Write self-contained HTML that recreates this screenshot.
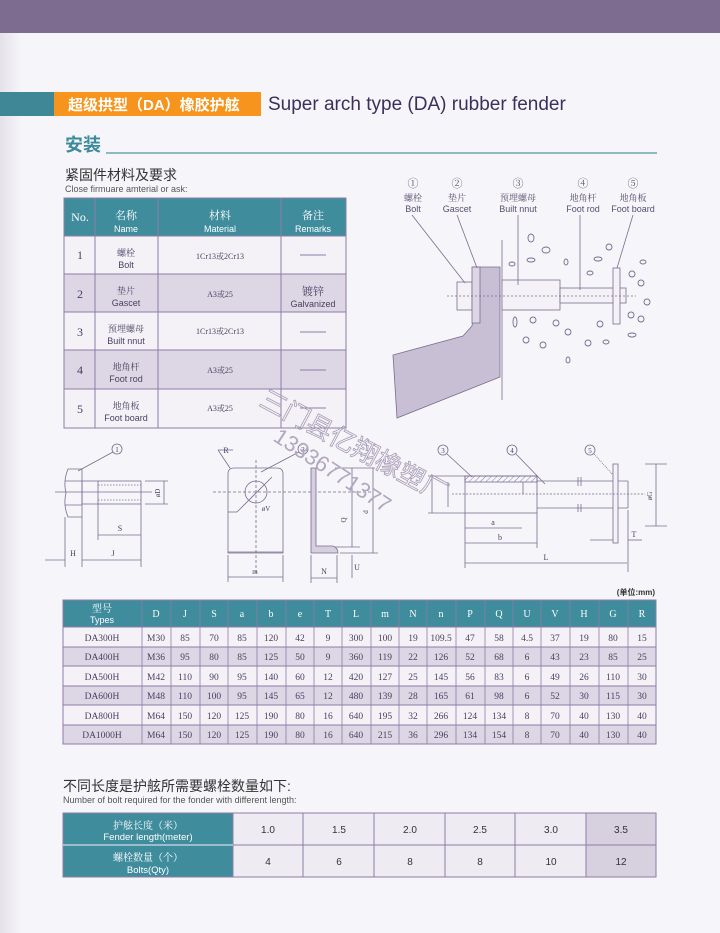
<!DOCTYPE html>
<html><head><meta charset="utf-8">
<style>
html,body{margin:0;padding:0;background:#f6f5f9;}
svg{display:block;}
.cn{font-family:"Liberation Sans","Noto Sans CJK SC",sans-serif;}
.sf{font-family:"Liberation Serif","Noto Serif CJK SC",serif;}
</style></head><body>
<svg width="720" height="933" viewBox="0 0 720 933" xmlns="http://www.w3.org/2000/svg">
<defs>
<linearGradient id="lg" x1="0" x2="1"><stop offset="0" stop-color="#e4e2e8"/><stop offset="0.03" stop-color="#f6f5f9"/></linearGradient>
<pattern id="hatch" width="4" height="4" patternUnits="userSpaceOnUse" patternTransform="rotate(45)"><line x1="0" y1="0" x2="0" y2="4" stroke="#8a7aa0" stroke-width="1"/></pattern>
</defs>
<rect width="720" height="933" fill="url(#lg)"/>
<rect width="720" height="33" fill="#7d6c8f"/>
<!-- title bar -->
<rect x="0" y="92" width="54" height="24" fill="#3f8696"/>
<rect x="54" y="92" width="207" height="24" fill="#f7941d"/>
<text x="68" y="110" class="cn" font-size="15" font-weight="bold" fill="#fff">超级拱型（DA）橡胶护舷</text>
<text x="268" y="110" class="cn" font-size="19" fill="#3d2f5a">Super arch type (DA) rubber fender</text>
<text x="65" y="151" class="cn" font-size="18" font-weight="bold" fill="#3d8a9a">安装</text>
<line x1="106" y1="153" x2="657" y2="153" stroke="#4f95a3" stroke-width="1.2"/>
<text x="65" y="180" class="cn" font-size="14" fill="#333">紧固件材料及要求</text>
<text x="65" y="192" class="cn" font-size="9" fill="#555">Close firmuare amterial or ask:</text>

<!-- table 1 -->
<g stroke="#8f7ca8" stroke-width="1">
<rect x="64" y="198" width="282" height="38" fill="#3f8c9c"/>
<rect x="64" y="236" width="282" height="38" fill="#f4f2f7"/>
<rect x="64" y="274" width="282" height="38" fill="#dcd6e5"/>
<rect x="64" y="312" width="282" height="38" fill="#f4f2f7"/>
<rect x="64" y="350" width="282" height="39" fill="#dcd6e5"/>
<rect x="64" y="389" width="282" height="39" fill="#f4f2f7"/>
<line x1="95" y1="198" x2="95" y2="428"/><line x1="158" y1="198" x2="158" y2="428"/><line x1="281" y1="198" x2="281" y2="428"/>
</g>
<g text-anchor="middle" fill="#fff">
<text x="80" y="221" class="sf" font-size="12">No.</text>
<text x="126" y="219" class="sf" font-size="11">名称</text><text x="126" y="232" class="cn" font-size="9">Name</text>
<text x="220" y="219" class="sf" font-size="11">材料</text><text x="220" y="232" class="cn" font-size="9">Material</text>
<text x="313" y="219" class="sf" font-size="11">备注</text><text x="313" y="232" class="cn" font-size="9">Remarks</text>
</g>
<g text-anchor="middle" fill="#4a3f60">
<text x="80" y="259" class="sf" font-size="12">1</text><text x="126" y="256" class="sf" font-size="9">螺栓</text><text x="126" y="268" class="cn" font-size="9">Bolt</text><text x="220" y="259" class="sf" font-size="8">1Cr13或2Cr13</text><line x1="300" y1="255" x2="326" y2="255" stroke="#8f7ca8"/>
<text x="80" y="298" class="sf" font-size="12">2</text><text x="126" y="294" class="sf" font-size="9">垫片</text><text x="126" y="306" class="cn" font-size="9">Gascet</text><text x="220" y="297" class="sf" font-size="8">A3或25</text><text x="313" y="295" class="sf" font-size="11">镀锌</text><text x="313" y="307" class="cn" font-size="9">Galvanized</text>
<text x="80" y="336" class="sf" font-size="12">3</text><text x="126" y="332" class="sf" font-size="9">预埋螺母</text><text x="126" y="344" class="cn" font-size="9">Built nnut</text><text x="220" y="334" class="sf" font-size="8">1Cr13或2Cr13</text><line x1="300" y1="332" x2="326" y2="332" stroke="#8f7ca8"/>
<text x="80" y="374" class="sf" font-size="12">4</text><text x="126" y="370" class="sf" font-size="9">地角杆</text><text x="126" y="382" class="cn" font-size="9">Foot rod</text><text x="220" y="373" class="sf" font-size="8">A3或25</text><line x1="300" y1="370" x2="326" y2="370" stroke="#8f7ca8"/>
<text x="80" y="413" class="sf" font-size="12">5</text><text x="126" y="409" class="sf" font-size="9">地角板</text><text x="126" y="421" class="cn" font-size="9">Foot board</text><text x="220" y="411" class="sf" font-size="8">A3或25</text><line x1="300" y1="408" x2="326" y2="408" stroke="#8f7ca8"/>
</g>

<!-- install diagram -->
<g text-anchor="middle" fill="#5a4e70" font-size="9">
<text x="413" y="187" class="sf" font-size="11">①</text><text x="457" y="187" class="sf" font-size="11">②</text><text x="518" y="187" class="sf" font-size="11">③</text><text x="583" y="187" class="sf" font-size="11">④</text><text x="633" y="187" class="sf" font-size="11">⑤</text>
<text x="413" y="201" class="sf">螺栓</text><text x="457" y="201" class="sf">垫片</text><text x="518" y="201" class="sf">预埋螺母</text><text x="583" y="201" class="sf">地角杆</text><text x="633" y="201" class="sf">地角板</text>
<text x="413" y="212" class="cn">Bolt</text><text x="457" y="212" class="cn">Gascet</text><text x="518" y="212" class="cn">Built nnut</text><text x="583" y="212" class="cn">Foot rod</text><text x="633" y="212" class="cn">Foot board</text>
</g>
<g stroke="#7a6c90" stroke-width="0.8" fill="none">
<polygon points="393,355 463,336 472,326 473,317 473,267 500,267 500,377 397,418" fill="#c8bfd5"/>
<line x1="502" y1="240" x2="502" y2="400"/>
<rect x="457" y="282" width="15" height="28" fill="#f4f2f7"/>
<rect x="472" y="267" width="8" height="56" fill="#ddd6e6"/>
<rect x="502" y="280" width="58" height="30" fill="#f4f2f7"/>
<rect x="560" y="288" width="66" height="15" fill="#f4f2f7"/>
<rect x="613" y="268" width="7" height="56" fill="#f4f2f7"/>
<line x1="447" y1="296" x2="636" y2="296" stroke-dasharray="2,2"/>
<line x1="412" y1="215" x2="465" y2="283"/><line x1="457" y1="215" x2="477" y2="268"/><line x1="518" y1="215" x2="518" y2="285"/><line x1="580" y1="215" x2="580" y2="290"/><line x1="633" y1="215" x2="617" y2="268"/>
<g stroke-width="0.9">
<ellipse cx="531" cy="238" rx="3" ry="4"/><ellipse cx="546" cy="250" rx="4" ry="3"/><ellipse cx="609" cy="247" rx="3" ry="3"/><ellipse cx="512" cy="264" rx="3" ry="2"/><ellipse cx="531" cy="260" rx="4" ry="2"/><ellipse cx="566" cy="262" rx="2" ry="3"/><ellipse cx="598" cy="259" rx="4" ry="2"/><ellipse cx="643" cy="262" rx="3" ry="2"/><ellipse cx="590" cy="273" rx="3" ry="2"/><ellipse cx="632" cy="274" rx="3" ry="3"/><ellipse cx="641" cy="283" rx="3" ry="3"/><ellipse cx="647" cy="302" rx="3" ry="3"/><ellipse cx="631" cy="315" rx="3" ry="3"/><ellipse cx="641" cy="319" rx="3" ry="3"/><ellipse cx="632" cy="335" rx="4" ry="2"/><ellipse cx="515" cy="322" rx="2" ry="5"/><ellipse cx="533" cy="320" rx="3" ry="3"/><ellipse cx="556" cy="323" rx="3" ry="3"/><ellipse cx="600" cy="324" rx="3" ry="3"/><ellipse cx="568" cy="332" rx="3" ry="3"/><ellipse cx="526" cy="340" rx="3" ry="3"/><ellipse cx="543" cy="345" rx="3" ry="3"/><ellipse cx="588" cy="343" rx="3" ry="3"/><ellipse cx="606" cy="342" rx="3" ry="2"/><ellipse cx="568" cy="360" rx="2" ry="3"/>
</g>
</g>

<!-- bolt detail -->
<g stroke="#7a6c90" stroke-width="0.8" fill="none">
<circle cx="117" cy="449" r="5"/><line x1="113" y1="452" x2="78" y2="471"/>
<path d="M68,469 L82,469 L82,517 L68,517 Q63,505 66,493 Q63,481 68,469 Z"/>
<line x1="65" y1="481" x2="82" y2="481"/><line x1="65" y1="505" x2="82" y2="505"/>
<rect x="82" y="481" width="59" height="23"/>
<line x1="98" y1="485" x2="141" y2="485" stroke-dasharray="1.5,1.5"/><line x1="98" y1="500" x2="141" y2="500" stroke-dasharray="1.5,1.5"/><line x1="98" y1="481" x2="98" y2="504"/>
<line x1="55" y1="492" x2="152" y2="492"/>
<line x1="145" y1="481" x2="168" y2="481"/><line x1="145" y1="504" x2="168" y2="504"/><line x1="164" y1="481" x2="164" y2="504"/>
<line x1="65" y1="517" x2="65" y2="567"/><line x1="82" y1="517" x2="82" y2="567"/><line x1="98" y1="504" x2="98" y2="540"/><line x1="141" y1="504" x2="141" y2="567"/>
<line x1="98" y1="535" x2="141" y2="535"/><line x1="82" y1="560" x2="141" y2="560"/><line x1="45" y1="560" x2="65" y2="560"/>
</g>
<g class="sf" font-size="8" fill="#4a3f60" text-anchor="middle">
<text x="117" y="452" font-size="7">1</text>
<text x="120" y="531">S</text><text x="113" y="556">J</text><text x="73" y="556">H</text>
<text x="160" y="493" transform="rotate(-90 160 493)" font-size="7">øD</text>
</g>

<!-- gasket plate -->
<g stroke="#7a6c90" stroke-width="0.8" fill="none">
<path d="M228,553 L228,474 Q228,468 234,468 L277,468 Q283,468 283,474 L283,553 Z"/>
<line x1="228" y1="552" x2="283" y2="552"/>
<circle cx="256" cy="492" r="11"/>
<line x1="213" y1="492" x2="373" y2="492" stroke-dasharray="3,2"/>
<line x1="256" y1="460" x2="256" y2="575" stroke-dasharray="3,2"/>
<line x1="237" y1="512" x2="272" y2="477"/><line x1="237" y1="512" x2="228" y2="512"/>
<line x1="228" y1="555" x2="228" y2="582"/><line x1="283" y1="555" x2="283" y2="582"/><line x1="228" y1="577" x2="283" y2="577"/>
<line x1="218" y1="450" x2="230" y2="468"/><line x1="218" y1="450" x2="233" y2="450"/>
<circle cx="303" cy="449" r="5"/><line x1="299" y1="452" x2="261" y2="472"/>
<path d="M311,468 L316,468 L316,546 L333,546 Q338,548 338,553 L311,553 Z" fill="#d6cfe0"/>
<line x1="335" y1="468" x2="375" y2="468"/><line x1="335" y1="547" x2="360" y2="547"/><line x1="340" y1="553" x2="378" y2="553"/>
<line x1="352" y1="468" x2="352" y2="547"/><line x1="373" y1="468" x2="373" y2="553"/>
<line x1="352" y1="555" x2="352" y2="578"/>
<line x1="311" y1="555" x2="311" y2="583"/><line x1="337" y1="555" x2="337" y2="583"/><line x1="311" y1="578" x2="337" y2="578"/>
</g>
<g class="sf" font-size="8" fill="#4a3f60" text-anchor="middle">
<text x="226" y="453">R</text><text x="303" y="452" font-size="7">2</text><text x="266" y="511" font-size="7">øV</text>
<text x="255" y="574" font-size="7">m</text><text x="324" y="574">N</text><text x="357" y="570">U</text>
<text x="346" y="520" transform="rotate(-90 346 520)" font-size="7">Q</text><text x="368" y="512" transform="rotate(-90 368 512)" font-size="7">d</text>
</g>

<!-- rod detail -->
<g stroke="#7a6c90" stroke-width="0.8" fill="none">
<circle cx="443" cy="450" r="5"/><line x1="447" y1="454" x2="472" y2="477"/>
<circle cx="512" cy="450" r="5"/><line x1="516" y1="454" x2="545" y2="484"/>
<circle cx="590" cy="450" r="5"/><line x1="594" y1="454" x2="615" y2="477" stroke-dasharray="1,1"/>
<rect x="465" y="476" width="72" height="37"/>
<rect x="465" y="476" width="72" height="6" fill="url(#hatch)"/>
<line x1="523" y1="482" x2="523" y2="494"/>
<line x1="537" y1="481" x2="628" y2="481"/><line x1="537" y1="508" x2="628" y2="508"/><line x1="628" y1="481" x2="628" y2="508"/>
<line x1="578" y1="477" x2="578" y2="486"/><line x1="581" y1="477" x2="581" y2="486"/><line x1="578" y1="504" x2="578" y2="512"/><line x1="581" y1="504" x2="581" y2="512"/>
<rect x="613" y="464" width="5" height="79" fill="#f4f2f7"/>
<line x1="452" y1="494" x2="645" y2="494" stroke-dasharray="2,1.5"/>
<line x1="645" y1="464" x2="667" y2="464"/><line x1="645" y1="526" x2="667" y2="526"/><line x1="656" y1="464" x2="656" y2="526"/>
<line x1="428" y1="476" x2="465" y2="476"/><line x1="428" y1="513" x2="465" y2="513"/><line x1="432" y1="476" x2="432" y2="513"/><line x1="448" y1="482" x2="448" y2="507"/>
<line x1="465" y1="513" x2="465" y2="568"/><line x1="537" y1="513" x2="537" y2="548"/><line x1="628" y1="510" x2="628" y2="572"/>
<line x1="465" y1="528" x2="522" y2="528"/><line x1="465" y1="543" x2="537" y2="543"/><line x1="465" y1="563" x2="627" y2="563"/>
<line x1="590" y1="540" x2="613" y2="540"/><line x1="628" y1="540" x2="642" y2="540"/>
</g>
<g class="sf" font-size="8" fill="#4a3f60" text-anchor="middle">
<text x="443" y="453" font-size="7">3</text><text x="512" y="453" font-size="7">4</text><text x="590" y="453" font-size="7">5</text>
<text x="493" y="525">a</text><text x="500" y="540">b</text><text x="546" y="560">L</text><text x="634" y="537">T</text>
<text x="652" y="496" transform="rotate(-90 652 496)" font-size="7">øG</text>
</g>

<!-- watermark -->
<text x="258" y="405" class="cn" font-size="26" fill="none" stroke="#a89cb6" stroke-width="0.8" transform="rotate(28 258 405)">三门县亿翔橡塑厂</text>
<text x="272" y="440" class="cn" font-size="22" fill="#b2a8be" transform="rotate(33 272 440)">13336771377</text>

<!-- main table -->
<text x="655" y="595" class="cn" font-size="8" font-weight="bold" fill="#333" text-anchor="end">(单位:mm)</text>
<g stroke="#8f7ca8" stroke-width="1">
<rect x="63" y="600" width="593" height="27" fill="#3f8c9c"/>
<rect x="63" y="627" width="593" height="20" fill="#f4f2f7"/>
<rect x="63" y="647" width="593" height="19" fill="#dcd6e5"/>
<rect x="63" y="666" width="593" height="20" fill="#f4f2f7"/>
<rect x="63" y="686" width="593" height="19" fill="#dcd6e5"/>
<rect x="63" y="705" width="593" height="20" fill="#f4f2f7"/>
<rect x="63" y="725" width="593" height="19" fill="#dcd6e5"/>
<g stroke-width="0.8">
<line x1="142" y1="600" x2="142" y2="744"/><line x1="171" y1="600" x2="171" y2="744"/><line x1="200" y1="600" x2="200" y2="744"/><line x1="228" y1="600" x2="228" y2="744"/><line x1="257" y1="600" x2="257" y2="744"/><line x1="286" y1="600" x2="286" y2="744"/><line x1="314" y1="600" x2="314" y2="744"/><line x1="342" y1="600" x2="342" y2="744"/><line x1="371" y1="600" x2="371" y2="744"/><line x1="399" y1="600" x2="399" y2="744"/><line x1="427" y1="600" x2="427" y2="744"/><line x1="456" y1="600" x2="456" y2="744"/><line x1="485" y1="600" x2="485" y2="744"/><line x1="513" y1="600" x2="513" y2="744"/><line x1="541" y1="600" x2="541" y2="744"/><line x1="570" y1="600" x2="570" y2="744"/><line x1="599" y1="600" x2="599" y2="744"/><line x1="628" y1="600" x2="628" y2="744"/>
</g></g>
<g class="sf" font-size="10" fill="#fff" text-anchor="middle">
<text x="102" y="612">型号</text><text x="102" y="623" class="cn" font-size="9">Types</text>
<text x="156" y="617">D</text><text x="185" y="617">J</text><text x="214" y="617">S</text><text x="242" y="617">a</text><text x="271" y="617">b</text><text x="300" y="617">e</text><text x="328" y="617">T</text><text x="356" y="617">L</text><text x="385" y="617">m</text><text x="413" y="617">N</text><text x="441" y="617">n</text><text x="470" y="617">P</text><text x="499" y="617">Q</text><text x="527" y="617">U</text><text x="555" y="617">V</text><text x="584" y="617">H</text><text x="613" y="617">G</text><text x="642" y="617">R</text>
</g>
<g class="sf" font-size="9.5" fill="#4a3f60" text-anchor="middle">
<g transform="translate(0,641)"><text x="102">DA300H</text><text x="156">M30</text><text x="185">85</text><text x="214">70</text><text x="242">85</text><text x="271">120</text><text x="300">42</text><text x="328">9</text><text x="356">300</text><text x="385">100</text><text x="413">19</text><text x="441">109.5</text><text x="470">47</text><text x="499">58</text><text x="527">4.5</text><text x="555">37</text><text x="584">19</text><text x="613">80</text><text x="642">15</text></g>
<g transform="translate(0,660)"><text x="102">DA400H</text><text x="156">M36</text><text x="185">95</text><text x="214">80</text><text x="242">85</text><text x="271">125</text><text x="300">50</text><text x="328">9</text><text x="356">360</text><text x="385">119</text><text x="413">22</text><text x="441">126</text><text x="470">52</text><text x="499">68</text><text x="527">6</text><text x="555">43</text><text x="584">23</text><text x="613">85</text><text x="642">25</text></g>
<g transform="translate(0,680)"><text x="102">DA500H</text><text x="156">M42</text><text x="185">110</text><text x="214">90</text><text x="242">95</text><text x="271">140</text><text x="300">60</text><text x="328">12</text><text x="356">420</text><text x="385">127</text><text x="413">25</text><text x="441">145</text><text x="470">56</text><text x="499">83</text><text x="527">6</text><text x="555">49</text><text x="584">26</text><text x="613">110</text><text x="642">30</text></g>
<g transform="translate(0,699)"><text x="102">DA600H</text><text x="156">M48</text><text x="185">110</text><text x="214">100</text><text x="242">95</text><text x="271">145</text><text x="300">65</text><text x="328">12</text><text x="356">480</text><text x="385">139</text><text x="413">28</text><text x="441">165</text><text x="470">61</text><text x="499">98</text><text x="527">6</text><text x="555">52</text><text x="584">30</text><text x="613">115</text><text x="642">30</text></g>
<g transform="translate(0,719)"><text x="102">DA800H</text><text x="156">M64</text><text x="185">150</text><text x="214">120</text><text x="242">125</text><text x="271">190</text><text x="300">80</text><text x="328">16</text><text x="356">640</text><text x="385">195</text><text x="413">32</text><text x="441">266</text><text x="470">124</text><text x="499">134</text><text x="527">8</text><text x="555">70</text><text x="584">40</text><text x="613">130</text><text x="642">40</text></g>
<g transform="translate(0,738)"><text x="102">DA1000H</text><text x="156">M64</text><text x="185">150</text><text x="214">120</text><text x="242">125</text><text x="271">190</text><text x="300">80</text><text x="328">16</text><text x="356">640</text><text x="385">215</text><text x="413">36</text><text x="441">296</text><text x="470">134</text><text x="499">154</text><text x="527">8</text><text x="555">70</text><text x="584">40</text><text x="613">130</text><text x="642">40</text></g>
</g>

<!-- bolts qty -->
<text x="63" y="791" class="cn" font-size="14" fill="#333">不同长度是护舷所需要螺栓数量如下:</text>
<text x="63" y="803" class="cn" font-size="9" fill="#555">Number of bolt required for the fonder with different length:</text>
<g stroke="#8f7ca8" stroke-width="1">
<rect x="63" y="813" width="170" height="64" fill="#3f8c9c"/>
<rect x="233" y="813" width="353" height="64" fill="#eeebf2"/>
<rect x="586" y="813" width="70" height="64" fill="#d6d0df"/>
<line x1="233" y1="845" x2="656" y2="845"/><line x1="63" y1="845" x2="233" y2="845" stroke="#f4f2f7"/>
<line x1="303" y1="813" x2="303" y2="877"/><line x1="374" y1="813" x2="374" y2="877"/><line x1="445" y1="813" x2="445" y2="877"/><line x1="515" y1="813" x2="515" y2="877"/><line x1="586" y1="813" x2="586" y2="877"/>
</g>
<g text-anchor="middle" fill="#fff">
<text x="148" y="829" class="sf" font-size="10">护舷长度（米）</text><text x="148" y="840" class="cn" font-size="9.5">Fender length(meter)</text>
<text x="148" y="861" class="sf" font-size="10">螺栓数量（个）</text><text x="148" y="873" class="cn" font-size="9.5">Bolts(Qty)</text>
</g>
<g class="cn" font-size="10" fill="#333" text-anchor="middle">
<text x="268" y="833">1.0</text><text x="339" y="833">1.5</text><text x="410" y="833">2.0</text><text x="480" y="833">2.5</text><text x="551" y="833">3.0</text><text x="621" y="833">3.5</text>
<text x="268" y="865">4</text><text x="339" y="865">6</text><text x="410" y="865">8</text><text x="480" y="865">8</text><text x="551" y="865">10</text><text x="621" y="865">12</text>
</g>
</svg>
</body></html>
